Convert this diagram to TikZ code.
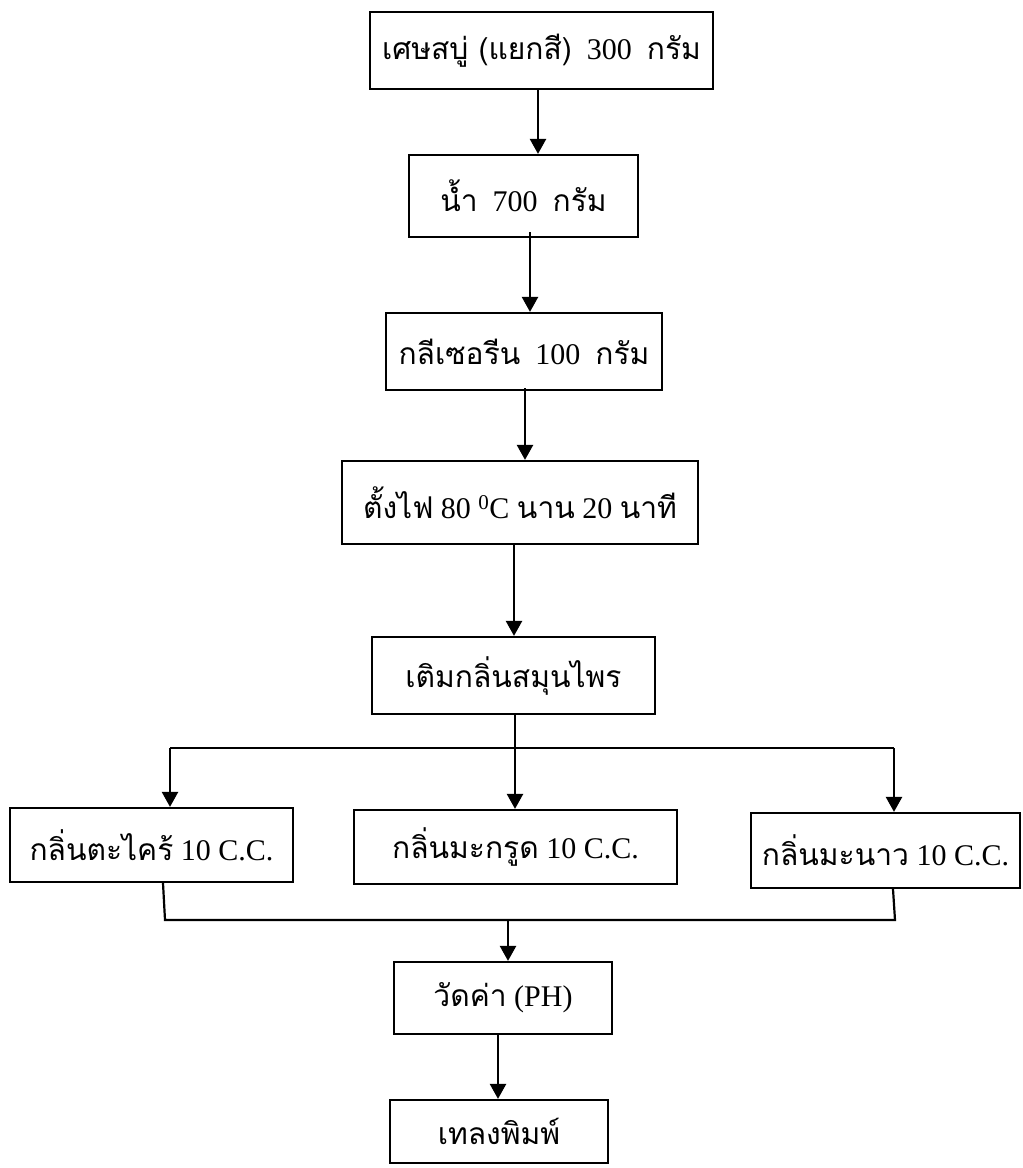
\documentclass[tikz,border=0pt]{standalone}
\usepackage{fontspec}
\setmainfont{Liberation Serif}
\newfontfamily\thf[Script=Thai,Scale=1.0]{Loma}
\usetikzlibrary{arrows.meta}
\begin{document}
\begin{tikzpicture}[x=1pt,y=-1pt,
  box/.style={draw,line width=2.2pt,inner sep=0pt,align=center,font=\fontsize{30}{34}\selectfont},
  arr/.style={line width=2.4pt,-{Triangle[length=15pt,width=16pt]}},
  ln/.style={line width=2.2pt}]
\useasboundingbox (0,0) rectangle (1023,1168);
\node[box,minimum width=343pt,minimum height=77pt] (b1) at (541.5,50.5) {{\thf เศษสบู่ (แยกสี)}\ \ 300\ \ {\thf กรัม}};
\node[box,minimum width=229pt,minimum height=82pt] (b2) at (523.5,196) {{\thf น้ำ}\ \ 700\ \ {\thf กรัม}};
\node[box,minimum width=276pt,minimum height=77pt] (b3) at (524,351.5) {{\thf กลีเซอรีน}\ \ 100\ \ {\thf กรัม}};
\node[box,minimum width=356pt,minimum height=83pt] (b4) at (520,502.5) {{\thf ตั้งไฟ}\ 80\ \textsuperscript{0}C\ {\thf นาน}\ 20\ {\thf นาที}};
\node[box,minimum width=283pt,minimum height=77pt] (b5) at (513.5,675.5) {{\thf เติมกลิ่นสมุนไพร}};
\node[box,minimum width=283pt,minimum height=74pt] (c1) at (151.5,845) {{\thf กลิ่นตะไคร้}\ 10\ C.C.};
\node[box,minimum width=323pt,minimum height=74pt] (c2) at (515.5,847) {{\thf กลิ่นมะกรูด}\ 10\ C.C.};
\node[box,minimum width=269pt,minimum height=75pt] (c3) at (885.5,850.5) {{\thf กลิ่นมะนาว}\ 10\ C.C.};
\node[box,minimum width=218pt,minimum height=72pt] (b6) at (503,998) {{\thf วัดค่า}\ (PH)};
\node[box,minimum width=218pt,minimum height=63pt] (b7) at (499,1131.5) {{\thf เทลงพิมพ์}};
% vertical chain
\draw[arr] (b1.south -| 538,0) -- (b2.north -| 538,0);
\draw[arr] ([yshift=6pt]b2.south -| 530,0) -- (b3.north -| 530,0);
\draw[arr] ([yshift=3pt]b3.south -| 525,0) -- (b4.north -| 525,0);
\draw[arr] (b4.south -| 514,0) -- (b5.north -| 514,0);
% branching
\coordinate (jl) at (170,748);
\coordinate (jr) at (894,748);
\draw[ln] (jl) -- (jr);
\draw[arr] (b5.south -| 515,0) -- (c2.north -| 515,0);
\draw[arr] (jl) -- (c1.north -| jl);
\draw[arr] (jr) -- (c3.north -| jr);
% merging
\coordinate (ml) at (165,920);
\coordinate (mr) at (895,920);
\draw[ln] (c1.south -| 163,0) -- (ml) -- (mr) -- (c3.south -| 893,0);
\draw[arr] (508,920) -- (b6.north -| 508,0);
\draw[arr] (b6.south -| 498,0) -- (b7.north -| 498,0);
\end{tikzpicture}
\end{document}
